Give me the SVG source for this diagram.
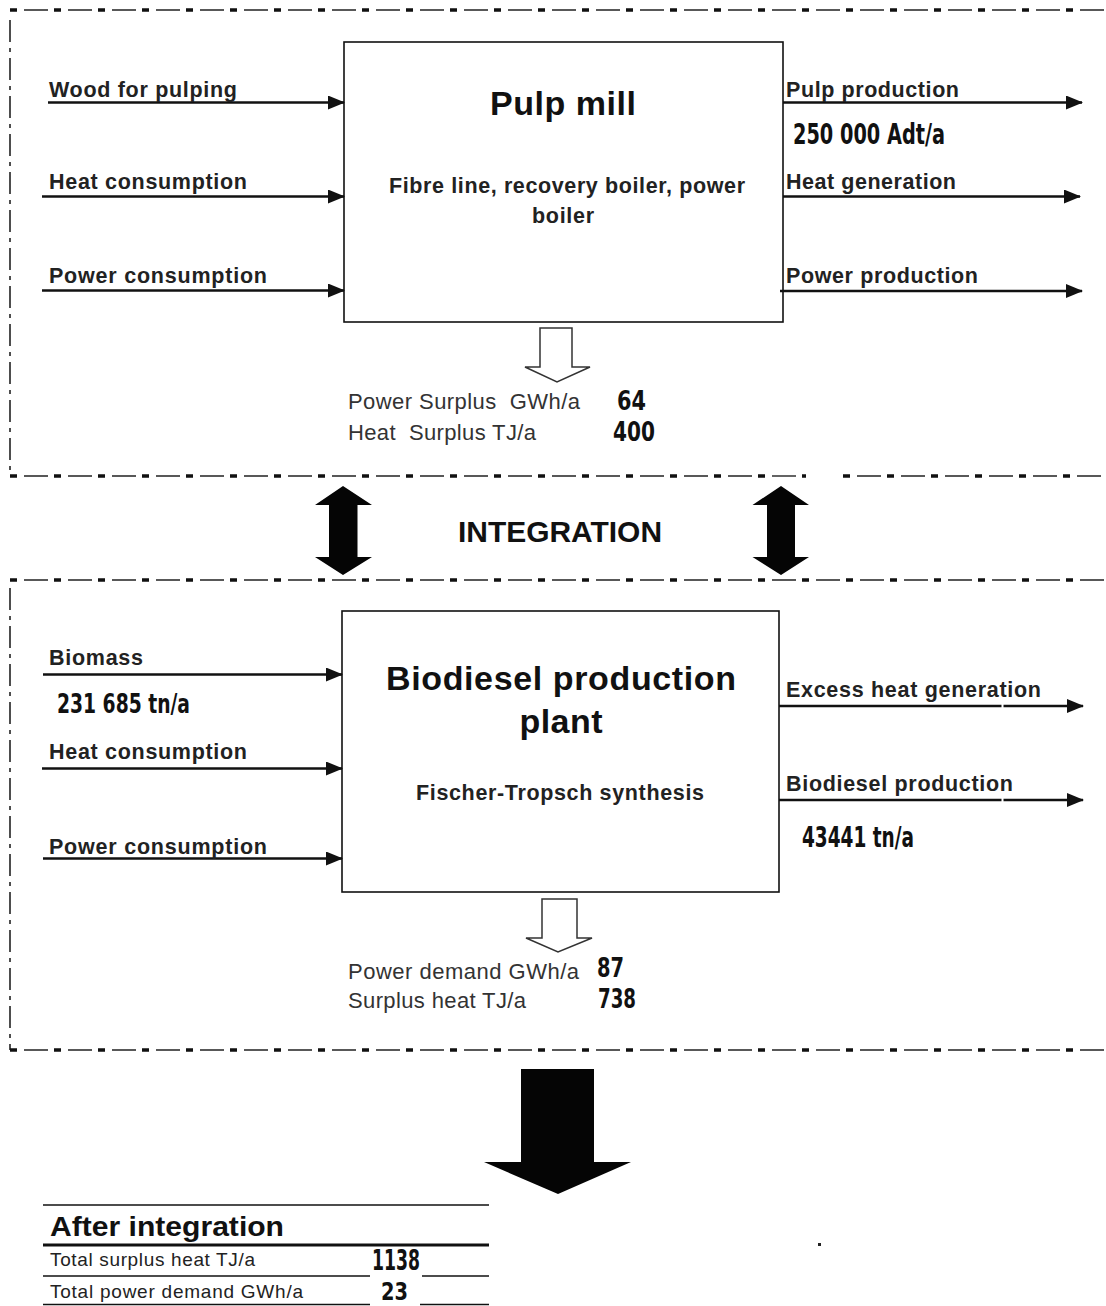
<svg xmlns="http://www.w3.org/2000/svg" width="1106" height="1306" viewBox="0 0 1106 1306">
<defs>
<marker id="ah" markerUnits="userSpaceOnUse" markerWidth="17" markerHeight="14" refX="16" refY="7" orient="auto">
<path d="M0,0 L17,7 L0,14 Z" fill="#111"/>
</marker>
<style>
.lbl{font-family:"Liberation Sans",Arial,sans-serif;font-weight:bold;font-size:21.5px;fill:#222}
.reg{font-family:"Liberation Sans",Arial,sans-serif;font-size:22px;fill:#333}
.title{font-family:"Liberation Sans",Arial,sans-serif;font-weight:bold;font-size:34px;fill:#111;text-anchor:middle}
.num{font-family:"DejaVu Sans Condensed","DejaVu Sans",sans-serif;font-stretch:condensed;font-weight:bold;fill:#111}
.flow{stroke:#111;stroke-width:2.5;fill:none;marker-end:url(#ah)}
.box{fill:#fff;stroke:#111;stroke-width:1.6}
.bthin{stroke:#222;stroke-width:1.4;fill:none;stroke-dasharray:24 20;stroke-dashoffset:30}
.bsq{stroke:#111;stroke-width:3.6;fill:none;stroke-dasharray:7 37}
.bv{stroke:#222;stroke-width:1.6;fill:none;stroke-dasharray:22 6 4 6}
.hollow{fill:#fff;stroke:#333;stroke-width:1.5;stroke-linejoin:miter}
.solid{fill:#050505}
.tl{stroke:#111;fill:none}
.trow{font-family:"Liberation Sans",Arial,sans-serif;font-size:19px;fill:#222}
</style>
</defs>
<rect width="1106" height="1306" fill="#fff"/>

<!-- dashed system borders -->
<g id="borders">
<line class="bthin" x1="10" y1="10" x2="1106" y2="10"/>
<line class="bsq" x1="10" y1="10" x2="1106" y2="10"/>
<line class="bv" x1="10" y1="20" x2="10" y2="476"/>
<line class="bthin" x1="10" y1="476" x2="806" y2="476"/>
<line class="bsq" x1="10" y1="476" x2="806" y2="476"/>
<line class="bthin" x1="843" y1="476" x2="1106" y2="476"/>
<line class="bsq" x1="843" y1="476" x2="1106" y2="476"/>
<line class="bthin" x1="10" y1="580" x2="1106" y2="580"/>
<line class="bsq" x1="10" y1="580" x2="1106" y2="580"/>
<line class="bv" x1="10" y1="588" x2="10" y2="1050"/>
<line class="bthin" x1="10" y1="1050" x2="1106" y2="1050"/>
<line class="bsq" x1="10" y1="1050" x2="1106" y2="1050"/>
</g>

<g id="pulp-mill">
<rect class="box" x="344" y="42" width="439" height="280"/>
<text class="title" x="563" y="115" textLength="146">Pulp mill</text>
<text class="lbl" x="389" y="193" textLength="356">Fibre line, recovery boiler, power</text>
<text class="lbl" x="532" y="223" textLength="62">boiler</text>
</g>

<g id="biodiesel-plant">
<rect class="box" x="342" y="611" width="437" height="281"/>
<text class="title" x="561" y="690" textLength="350">Biodiesel production</text>
<text class="title" x="561" y="733" textLength="83">plant</text>
<text class="lbl" x="416" y="800" textLength="288">Fischer-Tropsch synthesis</text>
</g>

<g id="connectors">
<!-- pulp mill inputs -->
<line class="flow" x1="48" y1="102.5" x2="344" y2="102.5"/>
<line class="flow" x1="42" y1="196.5" x2="344" y2="196.5"/>
<line class="flow" x1="42" y1="290.5" x2="344" y2="290.5"/>
<!-- pulp mill outputs -->
<line class="flow" x1="783" y1="102.5" x2="1082" y2="102.5"/>
<line class="flow" x1="783" y1="196.5" x2="1080" y2="196.5"/>
<line class="flow" x1="780" y1="291" x2="1082" y2="291"/>
<!-- biodiesel inputs -->
<line class="flow" x1="43" y1="674.5" x2="342" y2="674.5"/>
<line class="flow" x1="42" y1="768.5" x2="342" y2="768.5"/>
<line class="flow" x1="43" y1="858.5" x2="342" y2="858.5"/>
<!-- biodiesel outputs -->
<line class="flow" x1="779" y1="706" x2="1083" y2="706"/>
<line class="flow" x1="779" y1="800" x2="1083" y2="800"/>
<rect x="1001.5" y="702" width="2" height="8" fill="#fff"/>
<rect x="1001.5" y="796" width="2" height="8" fill="#fff"/>
<!-- hollow arrows -->
<path class="hollow" d="M540,328 L572,328 L572,367 L590,367 L557,382 L525,367 L540,367 Z"/>
<path class="hollow" d="M542,899 L577,899 L577,938 L592,938 L558,952 L526,938 L542,938 Z"/>
<!-- integration double arrows -->
<path class="solid" d="M343,486 L372,505 L357.5,505 L357.5,557 L372,557 L343,575 L315,557 L329,557 L329,505 L315,505 Z"/>
<path class="solid" d="M781,486 L809,505 L795,505 L795,557 L809,557 L781,575 L752.5,557 L767,557 L767,505 L752.5,505 Z"/>
<!-- big result arrow -->
<path class="solid" d="M521,1069 L594,1069 L594,1162 L631,1162 L558,1194 L484,1162 L521,1162 Z"/>
</g>

<g id="flow-labels">
<text class="lbl" x="49" y="97" textLength="188">Wood for pulping</text>
<text class="lbl" x="49" y="189" textLength="198">Heat consumption</text>
<text class="lbl" x="49" y="283" textLength="218">Power consumption</text>
<text class="lbl" x="786" y="97" textLength="173">Pulp production</text>
<text class="num" x="793" y="144" font-size="29" textLength="152" lengthAdjust="spacingAndGlyphs">250 000 Adt/a</text>
<text class="lbl" x="786" y="189" textLength="170">Heat generation</text>
<text class="lbl" x="786" y="283" textLength="192">Power production</text>

<text class="lbl" x="49" y="665" textLength="94">Biomass</text>
<text class="num" x="57" y="713" font-size="27" textLength="133" lengthAdjust="spacingAndGlyphs">231 685 tn/a</text>
<text class="lbl" x="49" y="759" textLength="198">Heat consumption</text>
<text class="lbl" x="49" y="854" textLength="218">Power consumption</text>
<text class="lbl" x="786" y="697" textLength="255">Excess heat generation</text>
<text class="lbl" x="786" y="791" textLength="227">Biodiesel production</text>
<text class="num" x="802" y="847" font-size="28" textLength="112" lengthAdjust="spacingAndGlyphs">43441 tn/a</text>
</g>

<g id="pulp-surplus">
<text class="reg" x="348" y="409" textLength="232" xml:space="preserve">Power Surplus  GWh/a</text>
<text class="num" x="617" y="410" font-size="27" textLength="29" lengthAdjust="spacingAndGlyphs">64</text>
<text class="reg" x="348" y="440" textLength="188" xml:space="preserve">Heat  Surplus TJ/a</text>
<text class="num" x="613" y="441" font-size="27" textLength="42" lengthAdjust="spacingAndGlyphs">400</text>
</g>

<g id="integration-label">
<text x="560" y="542" font-family="Liberation Sans, Arial, sans-serif" font-weight="bold" font-size="30" fill="#111" text-anchor="middle" textLength="204" lengthAdjust="spacingAndGlyphs">INTEGRATION</text>
</g>

<g id="biodiesel-balance">
<text class="reg" x="348" y="979" textLength="231">Power demand GWh/a</text>
<text class="num" x="597" y="977" font-size="27" textLength="27" lengthAdjust="spacingAndGlyphs">87</text>
<text class="reg" x="348" y="1008" textLength="178">Surplus heat TJ/a</text>
<text class="num" x="598" y="1008" font-size="27" textLength="38" lengthAdjust="spacingAndGlyphs">738</text>
</g>

<g id="after-integration">
<line class="tl" x1="43" y1="1205" x2="489" y2="1205" stroke-width="1.5"/>
<text x="50" y="1236" font-family="Liberation Sans, Arial, sans-serif" font-weight="bold" font-size="28" fill="#111" textLength="234" lengthAdjust="spacingAndGlyphs">After integration</text>
<line class="tl" x1="43" y1="1245" x2="489" y2="1245" stroke-width="3"/>
<text class="trow" x="50" y="1266" textLength="205">Total surplus heat TJ/a</text>
<text class="num" x="372" y="1270" font-size="28" textLength="48" lengthAdjust="spacingAndGlyphs">1138</text>
<line class="tl" x1="43" y1="1276" x2="370" y2="1276" stroke-width="1.3"/>
<line class="tl" x1="422" y1="1276" x2="489" y2="1276" stroke-width="1.3"/>
<text class="trow" x="50" y="1298" textLength="253">Total power demand GWh/a</text>
<text class="num" x="381" y="1300" font-size="25" textLength="27" lengthAdjust="spacingAndGlyphs">23</text>
<line class="tl" x1="43" y1="1304.5" x2="370" y2="1304.5" stroke-width="1.3"/>
<line class="tl" x1="420" y1="1304.5" x2="489" y2="1304.5" stroke-width="1.3"/>
<rect x="818" y="1243" width="3" height="3" fill="#222"/>
</g>
</svg>
